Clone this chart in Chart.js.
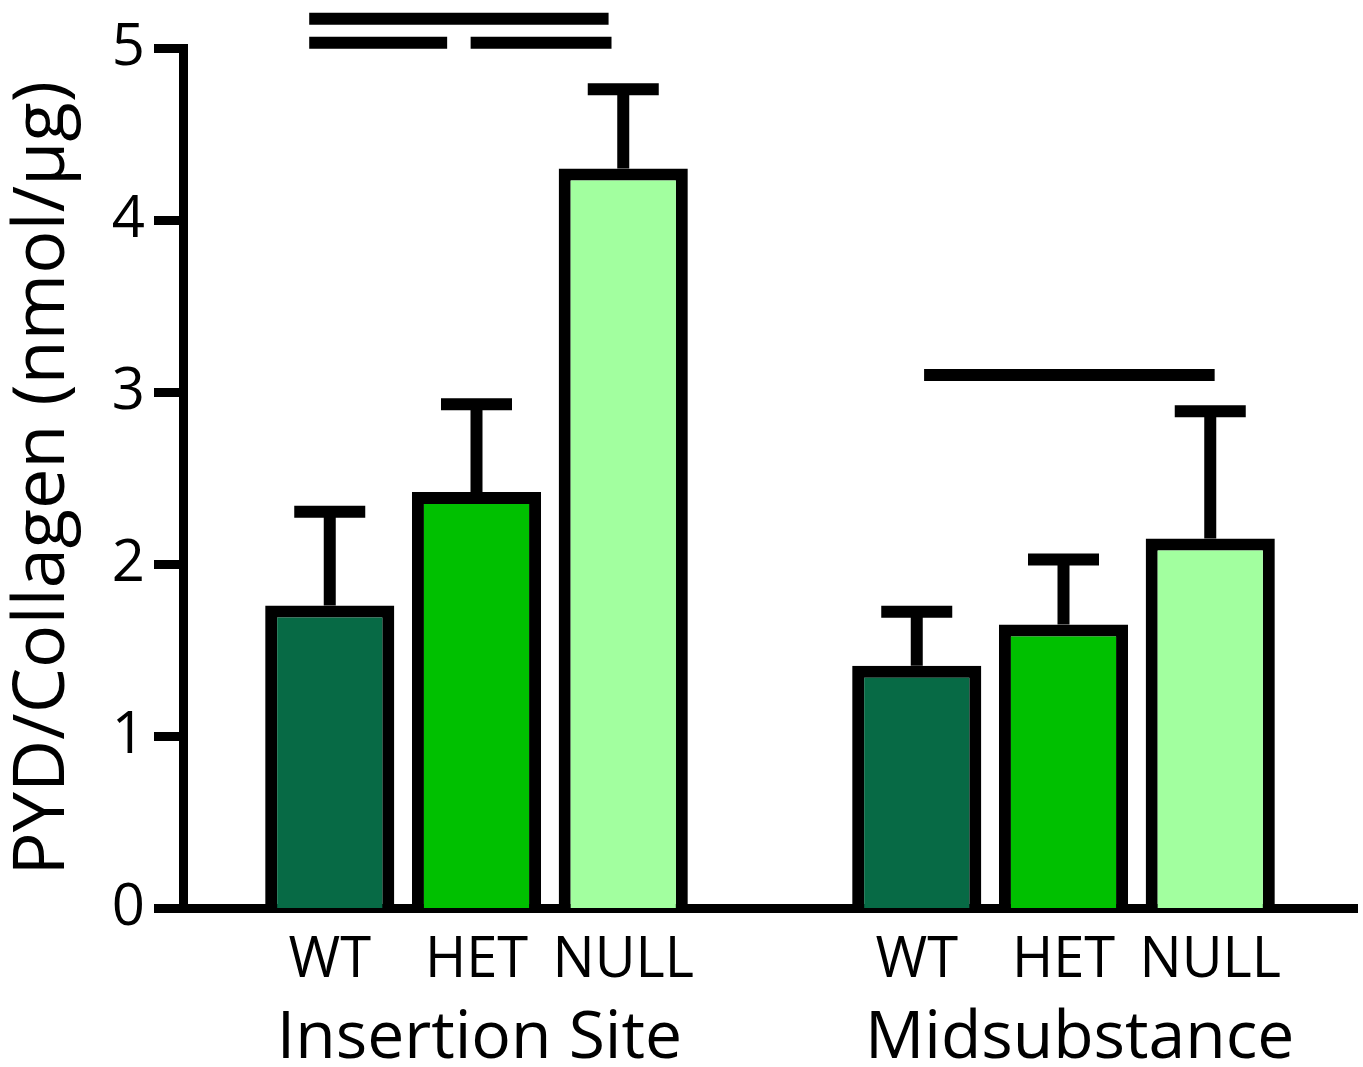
<!DOCTYPE html>
<html>
<head>
<meta charset="utf-8">
<script src="https://cdn.jsdelivr.net/npm/chart.js@4/dist/chart.umd.min.js"></script>
<style>
  body { margin: 0; background: #fff; }
  canvas { display: block; }
</style>
</head>
<body>
<canvas id="pydChart" width="1363" height="1067"></canvas>
<script>
// --- data ---
const xLabels = ['WT', 'HET', 'NULL', 'WT', 'HET', 'NULL'];
const xPositions = [1, 2, 3, 5, 6, 7];
const groupNames = ['Insertion Site', 'Midsubstance'];
const groupPositions = [2.02, 6.11];
const means = [1.76, 2.42, 4.30, 1.41, 1.65, 2.15];
const errors = [0.545, 0.51, 0.46, 0.315, 0.378, 0.74];
const yTicks = [0, 1, 2, 3, 4, 5];
// significance bars: start, end (x units) and level (y units)
const sigStart = [0.86, 0.86, 1.96, 5.05];
const sigEnd = [2.90, 1.80, 2.92, 7.03];
const sigLevel = [5.17, 5.03, 5.03, 3.10];

const genotypeColors = { WT: '#076a45', HET: '#00c000', NULL: '#a2ff9f' };
const FONT = "'Open Sans', 'Noto Sans', sans-serif";

Chart.defaults.font.family = FONT;
Chart.defaults.color = '#000';

const errorBarsPlugin = {
    id: 'errorBars',
    afterDatasetsDraw(chart) {
        const ctx = chart.ctx;
        const x = chart.scales.x;
        const y = chart.scales.y;
        const meta = chart.getDatasetMeta(0);
        ctx.save();
        ctx.strokeStyle = '#000';
        ctx.lineWidth = 12;
        ctx.lineCap = 'butt';
        meta.data.forEach((bar, i) => {
            const yTop = y.getPixelForValue(means[i] + errors[i]);
            const yBar = y.getPixelForValue(means[i]);
            ctx.beginPath();
            ctx.moveTo(bar.x, yBar);
            ctx.lineTo(bar.x, yTop);
            ctx.moveTo(bar.x - 35.5, yTop);
            ctx.lineTo(bar.x + 35.5, yTop);
            ctx.stroke();
        });
        sigLevel.forEach((lvl, i) => {
            const py = y.getPixelForValue(lvl);
            ctx.beginPath();
            ctx.moveTo(x.getPixelForValue(sigStart[i]), py);
            ctx.lineTo(x.getPixelForValue(sigEnd[i]), py);
            ctx.stroke();
        });
        ctx.restore();
    }
};

new Chart(document.getElementById('pydChart'), {
    type: 'bar',
    data: {
        datasets: [{
            data: xPositions.map((xp, i) => ({ x: xp, y: means[i] })),
            backgroundColor: xLabels.map(l => genotypeColors[l]),
            borderColor: '#000',
            borderWidth: 12,
            borderSkipped: 'start',
            categoryPercentage: 1,
            barPercentage: 0.88,
            xAxisID: 'x',
            yAxisID: 'y'
        }]
    },
    options: {
        responsive: false,
        animation: false,
        events: [],
        layout: { padding: { top: 48, right: 6, left: 0, bottom: 0 } },
        plugins: { legend: { display: false }, tooltip: { enabled: false } },
        scales: {
            x: {
                type: 'linear',
                position: 'bottom',
                min: 0,
                max: 8,
                offset: false,
                z: 1,
                grid: { display: false, offset: false },
                border: { display: true, color: '#000', width: 9 },
                afterBuildTicks: s => { s.ticks = xPositions.map(v => ({ value: v })); },
                afterFit: s => { s.height = 80; },
                ticks: {
                    autoSkip: false,
                    maxRotation: 0,
                    minRotation: 0,
                    padding: 11,
                    font: { size: 56 },
                    callback: (v, i) => xLabels[i]
                }
            },
            x2: {
                type: 'linear',
                position: 'bottom',
                min: 0,
                max: 8,
                offset: false,
                grid: { display: false, offset: false },
                border: { display: false },
                afterBuildTicks: s => { s.ticks = groupPositions.map(v => ({ value: v })); },
                afterFit: s => { s.height = 78.5; },
                ticks: {
                    autoSkip: false,
                    maxRotation: 0,
                    minRotation: 0,
                    padding: 3.5,
                    font: { size: 66 },
                    callback: (v, i) => groupNames[i]
                }
            },
            y: {
                min: 0,
                max: 5,
                z: 1,
                afterBuildTicks: s => { s.ticks = yTicks.map(v => ({ value: v })); },
                afterFit: s => { s.width = 183; },
                grid: {
                    drawOnChartArea: false,
                    drawTicks: true,
                    tickLength: 29,
                    tickWidth: 9,
                    tickColor: '#000'
                },
                border: { display: true, color: '#000', width: 9 },
                ticks: {
                    padding: 9,
                    font: { size: 58 }
                },
                title: {
                    display: true,
                    text: 'PYD/Collagen (nmol/µg)',
                    font: { size: 72 },
                    padding: 0
                }
            }
        }
    },
    plugins: [errorBarsPlugin]
});
</script>
</body>
</html>
